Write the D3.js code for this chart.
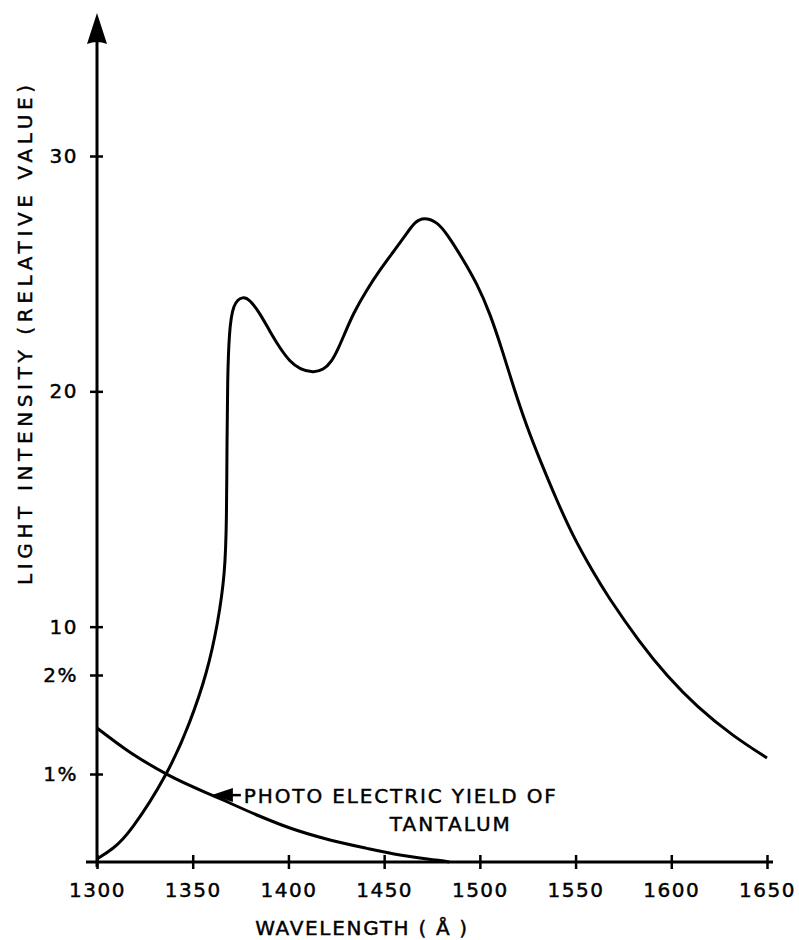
<!DOCTYPE html>
<html>
<head>
<meta charset="utf-8">
<script src="https://cdn.jsdelivr.net/npm/d3@7"></script>
<style>
  body { margin: 0; background: #fff; }
  svg { display: block; background: #fff; }
  text { font-family: "DejaVu Sans", sans-serif; fill: #000; stroke: #000; stroke-width: 0.45px; }
</style>
</head>
<body>
<div class="chart-container"></div>
<script>
// wavelength ticks (Å)
const xTicks = [1300, 1350, 1400, 1450, 1500, 1550, 1600, 1650];
// left axis ticks: light intensity and photo electric yield (%)
const intensityTicks = [10, 20, 30];
const yieldTicks = [1, 2];

// light intensity curve (relative value)
const intensityWave = [1300, 1308.4, 1317.2, 1337.1, 1348.6, 1357.5, 1363.2, 1366.9, 1367.7, 1367.9, 1368.2, 1369, 1371, 1376.3, 1379.9, 1385.1, 1390.4, 1395.6, 1400.8, 1406, 1413, 1418.2, 1422.6, 1426.1, 1428.7, 1433.9, 1440.9, 1447.8, 1454.8, 1461.8, 1466.1, 1470.8, 1477.5, 1482.7, 1491.4, 1498.4, 1505.3, 1512.2, 1517.5, 1524.5, 1531.4, 1540.1, 1548.8, 1559.3, 1566.3, 1583.7, 1597.8, 1613.4, 1632.2, 1650];
const intensityValue = [0.13, 0.55, 1.23, 3.74, 5.91, 8.03, 10.16, 12.28, 14.5, 17.9, 20.5, 22.5, 23.75, 24.05, 23.88, 23.32, 22.53, 21.83, 21.26, 20.94, 20.79, 20.91, 21.26, 21.83, 22.32, 23.32, 24.31, 25.16, 25.93, 26.71, 27.21, 27.4, 27.21, 26.71, 25.58, 24.59, 23.32, 21.62, 20.2, 18.5, 17.08, 15.38, 13.82, 12.3, 11.35, 9.3, 7.9, 6.59, 5.35, 4.42];

// photo electric yield of tantalum (%)
const yieldWave = [1300, 1317.2, 1337.1, 1365.8, 1385.1, 1400.8, 1421.7, 1441, 1458.3, 1468.7, 1479.2, 1484];
const yieldValue = [1.465, 1.22, 0.99, 0.705, 0.52, 0.386, 0.25, 0.155, 0.08, 0.045, 0.017, 0];

const annotationLines = ['PHOTO ELECTRIC YIELD OF', 'TANTALUM'];

const svg_width = 799;
const svg_height = 940;
const margin = { top: 13, right: 32, bottom: 78, left: 97 };
const chart_width = svg_width - margin.left - margin.right;
const chart_height = svg_height - margin.top - margin.bottom;

const svg = d3.select('.chart-container').append('svg')
    .attr('width', svg_width).attr('height', svg_height);
const g = svg.append('g').attr('transform', `translate(${margin.left},${margin.top})`);

// scales
const xScale = d3.scaleLinear([1300, 1650], [0, chart_width]);
const yIntensity = d3.scaleLinear([0, 30], [chart_height, 143]);
// the % ticks are not evenly spaced in the original
const yYield = d3.scaleLinear([0, 1, 2], [chart_height, 761, 662]);

// x axis, ticks cross the line
const xAxis = d3.axisBottom(xScale).tickValues(xTicks).tickFormat(d3.format('d'))
    .tickSizeInner(7).tickSizeOuter(0).tickPadding(14);
const xAxisDraw = g.append('g').attr('class', 'x axis')
    .attr('transform', `translate(0,${chart_height})`).call(xAxis);
xAxisDraw.select('.domain').remove();
xAxisDraw.selectAll('.tick line').attr('y1', -7).attr('stroke', '#000').attr('stroke-width', 2.5);
xAxisDraw.selectAll('.tick text').style('font-size', '20px').style('letter-spacing', '1.5px').attr('fill', '#000');
xAxisDraw.append('line')
    .attr('x1', xScale(1300) - 11).attr('x2', xScale(1650) + 6)
    .attr('stroke', '#000').attr('stroke-width', 3);

// y axis: two sets of ticks on the same line
function leftTicks(axis) {
    const sel = g.append('g').attr('class', 'y axis').call(axis);
    sel.select('.domain').remove();
    sel.selectAll('.tick line').attr('x1', 6).attr('stroke', '#000').attr('stroke-width', 2.5);
    sel.selectAll('.tick text').style('font-size', '20px').style('letter-spacing', '1.5px').attr('fill', '#000');
    return sel;
}
leftTicks(d3.axisLeft(yIntensity).tickValues(intensityTicks).tickSizeInner(7).tickSizeOuter(0).tickPadding(12));
leftTicks(d3.axisLeft(yYield).tickValues(yieldTicks).tickFormat(d => d + '%').tickSizeInner(7).tickSizeOuter(0).tickPadding(12));

// vertical axis line with arrow head
g.append('line')
    .attr('x1', 0).attr('x2', 0)
    .attr('y1', chart_height + 5).attr('y2', 20)
    .attr('stroke', '#000').attr('stroke-width', 3);
g.append('path')
    .attr('d', 'M0,0 L-10,31 Q0,27 10,31 Z')
    .attr('fill', '#000');

// curves
const intensityData = intensityWave.map((w, i) => ({ w, v: intensityValue[i] }));
const yieldData = yieldWave.map((w, i) => ({ w, v: yieldValue[i] }));

// basis smooths out the reading noise of the hand drawn curve
const intensityLine = d3.line()
    .x(d => xScale(d.w)).y(d => yIntensity(d.v))
    .curve(d3.curveBasis);
const yieldLine = d3.line()
    .x(d => xScale(d.w)).y(d => yYield(d.v))
    .curve(d3.curveMonotoneX);

g.append('path').datum(intensityData)
    .attr('d', intensityLine)
    .attr('fill', 'none').attr('stroke', '#000').attr('stroke-width', 3)
    .attr('stroke-linejoin', 'round');
g.append('path').datum(yieldData)
    .attr('d', yieldLine)
    .attr('fill', 'none').attr('stroke', '#000').attr('stroke-width', 3)
    .attr('stroke-linejoin', 'round');

// annotation arrow pointing at the yield curve
const tipX = xScale(1360);
const tipY = yYield(0.76);
const note = g.append('g').attr('transform', `translate(${tipX},${tipY})`);
note.append('path').attr('d', 'M0,0 L21,-7 L21,7 Z').attr('fill', '#000');
note.append('line').attr('x1', 20).attr('x2', 29).attr('stroke', '#000').attr('stroke-width', 2.5);
note.append('text').attr('x', 32).attr('y', 8)
    .style('font-size', '20px')
    .attr('textLength', 312).attr('lengthAdjust', 'spacing')
    .text(annotationLines[0]);
note.append('text').attr('x', 178).attr('y', 36)
    .style('font-size', '20px')
    .attr('textLength', 120).attr('lengthAdjust', 'spacing')
    .text(annotationLines[1]);

// axis titles
g.append('text')
    .attr('x', xScale(1438)).attr('y', chart_height + 73)
    .attr('text-anchor', 'middle')
    .style('font-size', '20px')
    .attr('textLength', 212).attr('lengthAdjust', 'spacing')
    .text('WAVELENGTH ( \u00C5 )');
g.append('text')
    .attr('transform', `translate(${-65},${335 - margin.top}) rotate(-90)`)
    .attr('text-anchor', 'middle')
    .style('font-size', '20px')
    .attr('textLength', 500).attr('lengthAdjust', 'spacing')
    .text('LIGHT INTENSITY (RELATIVE VALUE)');
</script>
</body>
</html>
